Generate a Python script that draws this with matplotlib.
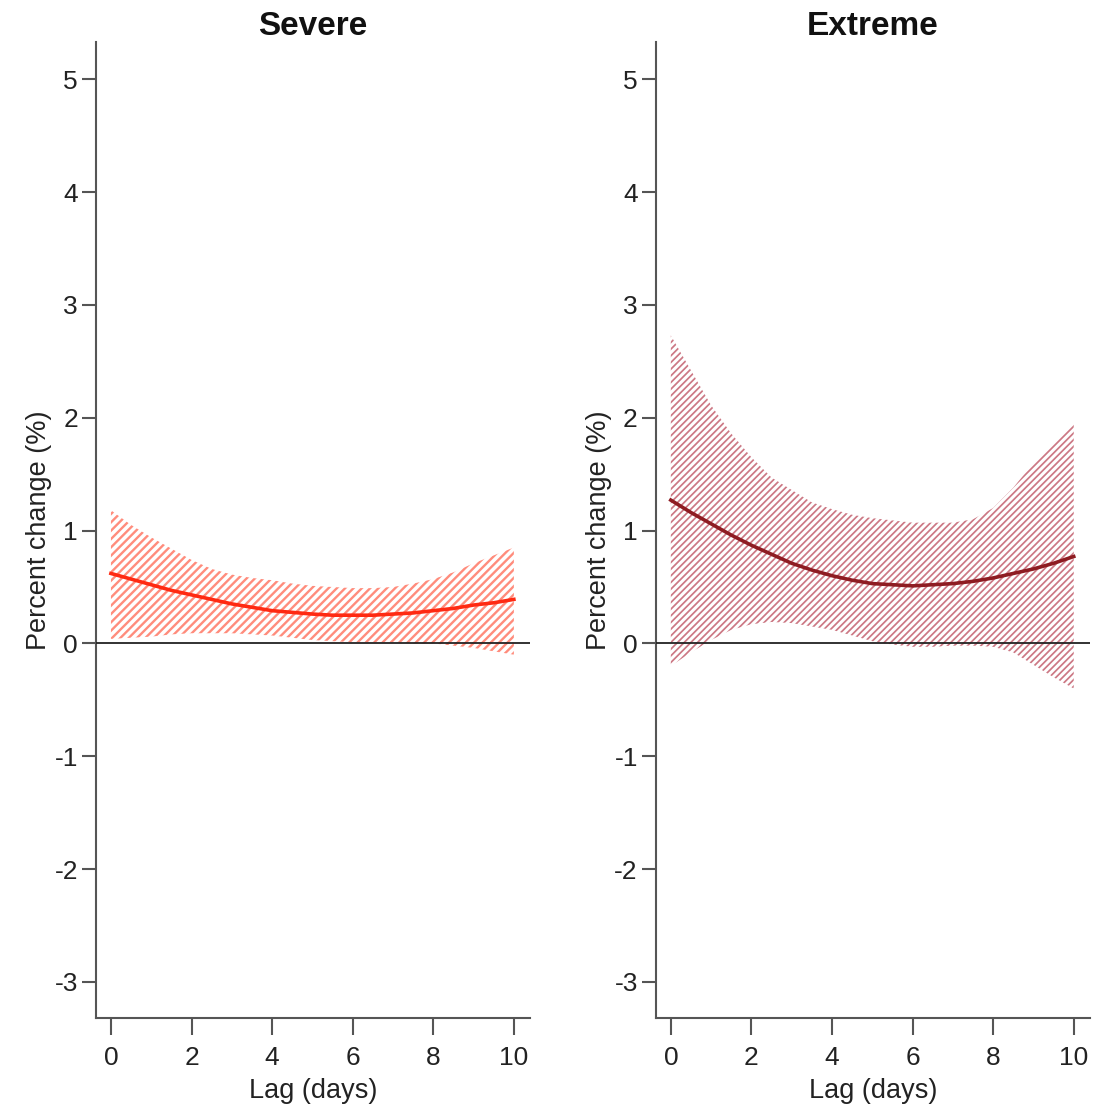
import matplotlib
matplotlib.use("Agg")
import matplotlib.pyplot as plt
import numpy as np

plt.rcParams['font.family'] = ['Liberation Sans', 'DejaVu Sans']
plt.rcParams['axes.unicode_minus'] = False

lags = [0, 0.5, 1, 1.5, 2, 2.5, 3, 3.5, 4, 4.5, 5, 5.5, 6, 6.5, 7, 7.5, 8, 8.5, 9, 9.5, 10]

severe_est = [0.62, 0.57, 0.52, 0.47, 0.43, 0.39, 0.35, 0.32, 0.29, 0.275, 0.26,
              0.25, 0.25, 0.25, 0.26, 0.27, 0.29, 0.31, 0.34, 0.36, 0.39]
severe_upper = [1.18, 1.05, 0.94, 0.84, 0.74, 0.66, 0.61, 0.58, 0.56, 0.53, 0.51,
                0.50, 0.49, 0.49, 0.50, 0.53, 0.57, 0.63, 0.71, 0.78, 0.85]
severe_lower = [0.04, 0.05, 0.06, 0.08, 0.09, 0.09, 0.09, 0.08, 0.07, 0.05, 0.03,
                0.02, 0.01, 0.01, 0.01, 0.00, 0.00, -0.02, -0.04, -0.07, -0.10]

extreme_est = [1.27, 1.16, 1.06, 0.96, 0.87, 0.79, 0.71, 0.65, 0.60, 0.56, 0.53,
               0.52, 0.51, 0.52, 0.53, 0.55, 0.58, 0.62, 0.66, 0.71, 0.77]
extreme_upper = [2.73, 2.42, 2.11, 1.86, 1.65, 1.47, 1.36, 1.25, 1.19, 1.14, 1.11,
                 1.09, 1.07, 1.07, 1.07, 1.10, 1.20, 1.38, 1.60, 1.78, 1.95]
extreme_lower = [-0.20, -0.08, 0.03, 0.12, 0.17, 0.19, 0.18, 0.15, 0.12, 0.07, 0.02,
                 -0.01, -0.03, -0.03, -0.02, -0.02, -0.03, -0.08, -0.19, -0.30, -0.40]

titles = ["Severe", "Extreme"]
xticks = [0, 2, 4, 6, 8, 10]
yticks = [-3, -2, -1, 0, 1, 2, 3, 4, 5]

panels = [
    (severe_est, severe_lower, severe_upper, '#ff2a12', '#ff8c7c', '////', 1.7),
    (extreme_est, extreme_lower, extreme_upper, '#8e1c22', '#cc7884', '/////', 1.25),
]

fig = plt.figure(figsize=(10.95, 11.11), dpi=100)
axes_pos = [[0.0877, 0.0837, 0.3963, 0.8785], [0.599, 0.0837, 0.3963, 0.8785]]

spine_col = '#555555'
for pos, title, (est, lo, up, lc, hc, hatch, hlw) in zip(axes_pos, titles, panels):
    ax = fig.add_axes(pos)
    with plt.rc_context({'hatch.linewidth': hlw}):
        band = ax.fill_between(lags, lo, up, facecolor='none', edgecolor=hc,
                               hatch=hatch, linewidth=0)
    if hasattr(band, 'set_hatch_linewidth'):
        band.set_hatch_linewidth(hlw)
    ax.axhline(0, color='#222222', lw=1.3, zorder=3)
    ax.plot(lags, est, color=lc, lw=2.6, zorder=4)
    ax.set_xlim(-0.37, 10.4)
    ax.set_ylim(-3.32, 5.33)
    ax.set_xticks(xticks)
    ax.set_yticks(yticks)
    ax.spines['top'].set_visible(False)
    ax.spines['right'].set_visible(False)
    for s in ['left', 'bottom']:
        ax.spines[s].set_color(spine_col)
        ax.spines[s].set_linewidth(1.5)
    ax.tick_params(axis='both', direction='out', colors=spine_col, labelcolor='#222222',
                   labelsize=19, width=1.5)
    ax.tick_params(axis='x', length=12, pad=8)
    ax.tick_params(axis='y', length=10, pad=3)
    ax.set_xlabel('Lag (days)', fontsize=19.5, color='#222222', labelpad=6)
    ax.set_ylabel('Percent change (%)', fontsize=19.5, color='#222222', labelpad=2)
    ax.set_title(title, fontsize=24, fontweight='bold', color='#111111', pad=4)

fig.savefig('out.png', dpi=100)
